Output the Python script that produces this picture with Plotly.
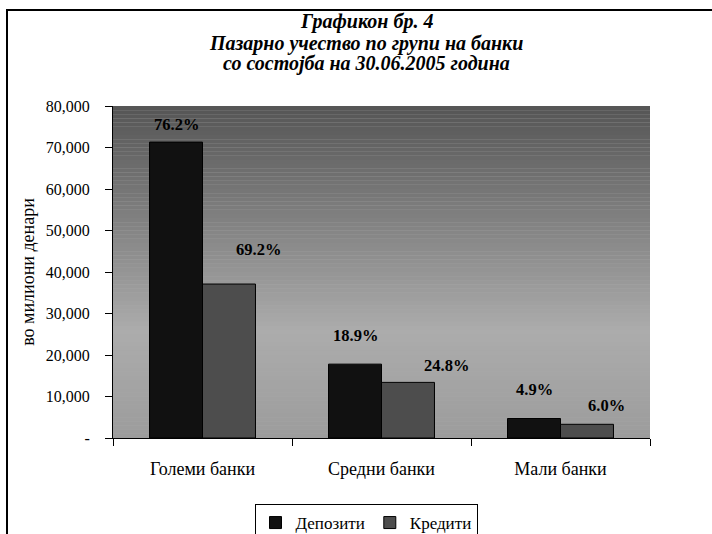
import plotly.graph_objects as go

categories = ["Големи банки", "Средни банки", "Мали банки"]
deposits = [71300, 17800, 4700]
credits = [37100, 13400, 3300]
deposit_pct = ["76.2%", "18.9%", "4.9%"]
credit_pct = ["69.2%", "24.8%", "6.0%"]
y_ticks = [0, 10000, 20000, 30000, 40000, 50000, 60000, 70000, 80000]
y_tick_labels = ["-", "10,000", "20,000", "30,000", "40,000", "50,000", "60,000", "70,000", "80,000"]
title_lines = ["Графикон бр. 4", "Пазарно учество по групи на банки", "со состојба на 30.06.2005 година"]

# label placement (pixel offsets, as in the reference's hand-placed labels)
dep_lbl_dx = [0, 0, 0]
dep_lbl_dy = [18, 29, 29]
cre_lbl_dx = [30, 39, 20]
cre_lbl_dy = [35, 17, 19]

FONT = "Liberation Serif"
W, H = 712, 534
L, R, T, B = 113, 62, 106, 96
PW, PH = W - L - R, H - T - B
BW = 0.296
CENTER_X = 366

fig = go.Figure()
fig.add_trace(go.Bar(
    name="Депозити", x=list(range(3)), y=deposits, width=BW, offset=-BW,
    marker=dict(color="#111111", line=dict(color="black", width=1)),
))
fig.add_trace(go.Bar(
    name="Кредити", x=list(range(3)), y=credits, width=BW, offset=0,
    marker=dict(color="#4d4d4d", line=dict(color="black", width=1)),
))

annotations = []
lblfont = dict(family=FONT, size=16.5, color="black", weight="bold")
for i in range(3):
    annotations.append(dict(x=i - BW / 2, y=deposits[i], xref="x", yref="y", text=deposit_pct[i],
                            showarrow=False, xshift=dep_lbl_dx[i], yshift=dep_lbl_dy[i],
                            yanchor="middle", font=lblfont))
    annotations.append(dict(x=i + BW / 2, y=credits[i], xref="x", yref="y", text=credit_pct[i],
                            showarrow=False, xshift=cre_lbl_dx[i], yshift=cre_lbl_dy[i],
                            yanchor="middle", font=lblfont))
title_y = [22, 44, 64]
for txt, py in zip(title_lines, title_y):
    annotations.append(dict(x=(CENTER_X - L) / PW, y=(H - B - py) / PH, xref="paper", yref="paper",
                            text=f"<b><i>{txt}</i></b>",
                            showarrow=False, xanchor="center", yanchor="middle",
                            font=dict(family=FONT, size=20, color="black")))

# gradient background for the plot area
shapes = []
n = 80
def col(t):
    if t < 0.68:
        v = 85 + (172 - 85) * (t / 0.68)
    else:
        v = 172 - (172 - 156) * ((t - 0.68) / 0.32)
    v = int(round(v))
    return f"rgb({v},{v},{v})"
for i in range(n):
    t = (i + 0.5) / n
    shapes.append(dict(type="rect", xref="x domain", yref="y domain",
                       x0=0, x1=1, y0=1 - (i + 1) / n, y1=1 - i / n,
                       fillcolor=col(t), line=dict(width=0), layer="below"))
# outer chart border (only top and left edges fall inside the picture)
shapes.append(dict(type="rect", xref="paper", yref="paper",
                   x0=(7 - L) / PW, x1=(740 - L) / PW, y0=(H - B - 10) / PH, y1=(H - B - 560) / PH,
                   line=dict(color="black", width=2), fillcolor="rgba(0,0,0,0)", layer="above"))

fig.update_layout(
    width=W, height=H,
    margin=dict(l=L, r=R, t=T, b=B),
    paper_bgcolor="white", plot_bgcolor="#aaaaaa",
    font=dict(family=FONT, size=16, color="black"),
    barmode="overlay",
    showlegend=True,
    legend=dict(orientation="h", x=CENTER_X / W, xref="container", xanchor="center",
                y=1 - 504 / H, yref="container", yanchor="top",
                bordercolor="black", borderwidth=1, bgcolor="white",
                font=dict(family=FONT, size=17, color="black"), traceorder="normal",
                itemwidth=30, tracegroupgap=0),
    shapes=shapes,
    annotations=annotations,
)
fig.update_xaxes(range=[-0.5, 2.5], tickmode="array", tickvals=[0, 1, 2], ticktext=categories,
                 showline=True, linecolor="black", linewidth=1, ticks="", showgrid=False,
                 zeroline=False, tickfont=dict(family=FONT, size=18), automargin=False,
                 ticklabelstandoff=14,
                 minor=dict(tickmode="array", tickvals=[-0.5, 0.5, 1.5, 2.5], ticks="outside",
                            ticklen=7, tickcolor="black", showgrid=False))
fig.update_yaxes(range=[0, 80000], tickvals=y_ticks, ticktext=y_tick_labels, showline=True,
                 linecolor="black", linewidth=1, ticks="outside", ticklen=7, tickcolor="black",
                 showgrid=False, zeroline=False, tickfont=dict(family=FONT, size=16),
                 automargin=False, ticklabelstandoff=12,
                 title=dict(text="во милиони денари", font=dict(family=FONT, size=18), standoff=6))

fig.write_html("out.html", post_script="document.body.style.margin='0';",
               config={"displayModeBar": False})
